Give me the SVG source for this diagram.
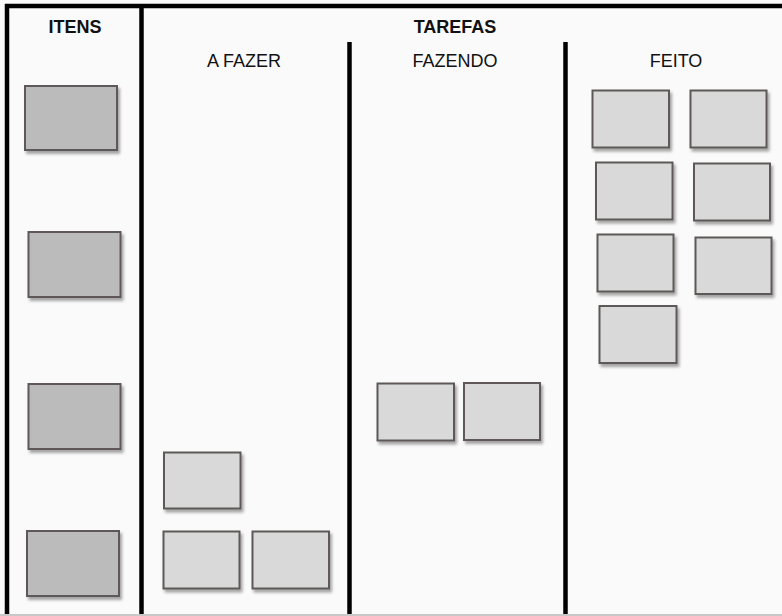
<svg xmlns="http://www.w3.org/2000/svg" width="782" height="616" viewBox="0 0 782 616">
<defs>
<filter id="sh" x="-10%" y="-10%" width="130%" height="135%">
<feDropShadow dx="2" dy="3" stdDeviation="1.6" flood-color="#000" flood-opacity="0.35"/>
</filter>
</defs>
<style>
.bg{fill:#fafafa}
.ln{stroke:#000;stroke-width:4.5;fill:none}
.item{fill:#bbbbbb;stroke:#5e5858;stroke-width:2;filter:url(#sh)}
.task{fill:#d9d9d9;stroke:#5e5858;stroke-width:2;filter:url(#sh)}
.h{font-family:"Liberation Sans",Arial,sans-serif;font-size:18px;fill:#111;text-anchor:middle}
.b{font-weight:bold}
</style>
<rect class="bg" x="0" y="0" width="782" height="616"/>
<g id="frame">
<line class="ln" x1="7" y1="4" x2="7" y2="616"/>
<line class="ln" x1="5" y1="6" x2="782" y2="6"/>
<line class="ln" x1="141.5" y1="6" x2="141.5" y2="616"/>
<line class="ln" x1="349.5" y1="42" x2="349.5" y2="616"/>
<line class="ln" x1="565.5" y1="42" x2="565.5" y2="616"/>
<line x1="0" y1="615" x2="782" y2="615" stroke="#c8c8c8" stroke-width="2"/>
</g>
<g id="labels">
<text class="h b" x="75" y="33">ITENS</text>
<text class="h b" x="455" y="33">TAREFAS</text>
<text class="h" x="244" y="67">A FAZER</text>
<text class="h" x="455" y="67">FAZENDO</text>
<text class="h" x="676" y="67">FEITO</text>
</g>
<g id="item1"><rect class="item" x="25" y="86" width="92" height="64"/></g>
<g id="item2"><rect class="item" x="28.5" y="232" width="92" height="65"/></g>
<g id="item3"><rect class="item" x="28.5" y="384" width="92" height="65"/></g>
<g id="item4"><rect class="item" x="27" y="531" width="92" height="65"/></g>
<g id="todo1"><rect class="task" x="164" y="452.5" width="76.5" height="56"/></g>
<g id="todo2"><rect class="task" x="163.5" y="531.5" width="76" height="57"/></g>
<g id="todo3"><rect class="task" x="252.5" y="531.5" width="76.5" height="57"/></g>
<g id="doing1"><rect class="task" x="377.5" y="383.5" width="76.5" height="57"/></g>
<g id="doing2"><rect class="task" x="464" y="383" width="76" height="57"/></g>
<g id="done1"><rect class="task" x="592.5" y="90.5" width="76.5" height="57"/></g>
<g id="done2"><rect class="task" x="690.5" y="90.5" width="76" height="57"/></g>
<g id="done3"><rect class="task" x="596" y="162.5" width="76.5" height="57"/></g>
<g id="done4"><rect class="task" x="694" y="163.5" width="76" height="57"/></g>
<g id="done5"><rect class="task" x="597.5" y="234.5" width="76" height="57"/></g>
<g id="done6"><rect class="task" x="695.5" y="237.5" width="76" height="56.5"/></g>
<g id="done7"><rect class="task" x="599.5" y="306" width="77" height="57"/></g>
</svg>
